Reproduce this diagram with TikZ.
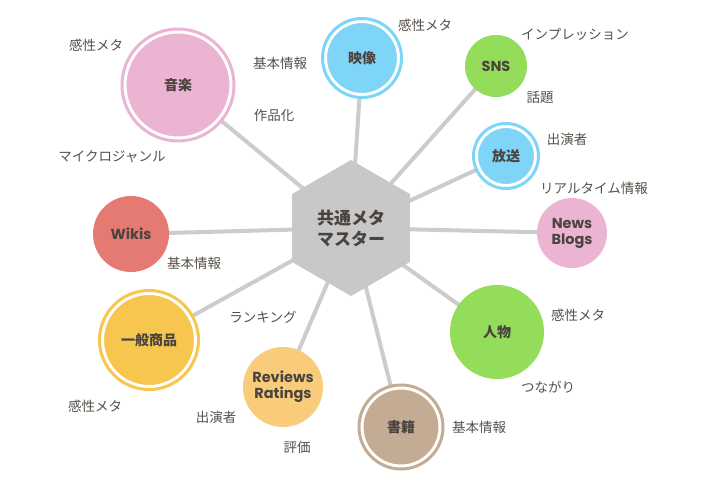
\documentclass[tikz,border=0pt]{standalone}
\usepackage{fontspec}
\setmainfont{Noto Sans CJK JP}
\newfontfamily\latfont{Poppins}
\usetikzlibrary{shapes.geometric}
\pgfdeclarelayer{background}
\pgfsetlayers{background,main}
\definecolor{txt}{HTML}{57504A}
\definecolor{txtd}{HTML}{4A433E}
\definecolor{lnk}{HTML}{CCCCCC}
\definecolor{hexc}{HTML}{C8C8C8}
\definecolor{pinkc}{HTML}{ECB4D3}
\definecolor{bluec}{HTML}{7FD5F7}
\definecolor{greenc}{HTML}{93DD5B}
\definecolor{redc}{HTML}{E57A72}
\definecolor{yellowc}{HTML}{F7C64E}
\definecolor{orangec}{HTML}{F8CC7A}
\definecolor{tanc}{HTML}{C4AC94}
\begin{document}
\begin{tikzpicture}[x=1pt,y=-1pt,
  lbl/.style={text=txt, font=\fontsize{13.5}{15}\selectfont, inner sep=0},
  ttl/.style={text=txtd, font=\bfseries\fontsize{14}{16}\selectfont, align=center},
  latttl/.style={text=txtd, font=\latfont\bfseries\fontsize{14.5}{16}\selectfont, align=center},
  bub/.style={circle, inner sep=0, outer sep=0, fill=#1},
  gapped/.style={draw=white, line width=3pt},
  ringline/.style={draw=#1, line width=3pt},
  link/.style={draw=lnk, line width=4pt}]
\useasboundingbox (0,0) rectangle (720,480);

% centre hexagon
\node[regular polygon, regular polygon sides=6, shape border rotate=30,
      fill=hexc, minimum size=136pt, inner sep=0, text=txtd,
      font=\bfseries\fontsize{17}{21}\selectfont, align=center] (hub) at (351,228) {共通メタ\\マスター};

% bubbles
\node[bub=pinkc, gapped, minimum size=106pt, ttl] (music) at (178,85) {音楽};
\draw[ringline=pinkc] (music.center) circle (56);
\node[bub=bluec, gapped, minimum size=73pt, ttl] (video) at (362,58) {映像};
\draw[ringline=bluec] (video.center) circle (39.5);
\node[bub=greenc, minimum size=62pt, latttl] (sns) at (496,66) {SNS};
\node[bub=bluec, gapped, minimum size=59pt, ttl] (bcast) at (506,156) {放送};
\draw[ringline=bluec] (bcast.center) circle (32.5);
\node[bub=pinkc, minimum size=70pt, latttl] (news) at (572,233) {News\\Blogs};
\node[bub=greenc, minimum size=94pt, ttl] (person) at (497,332) {人物};
\node[bub=tanc, gapped, minimum size=78pt, ttl] (book) at (401,427) {書籍};
\draw[ringline=tanc] (book.center) circle (42);
\node[bub=orangec, minimum size=80pt, latttl] (review) at (283,387) {Reviews\\Ratings};
\node[bub=yellowc, gapped, minimum size=93pt, ttl] (goods) at (149,340) {一般商品};
\draw[ringline=yellowc] (goods.center) circle (49.5);
\node[bub=redc, minimum size=76pt, latttl] (wiki) at (131,234) {Wikis};

% connectors
\begin{pgfonlayer}{background}
\foreach \n in {music,video,sns,bcast,news,person,book,review,goods,wiki}
  \draw[link] (hub.center) -- (\n.center);
\end{pgfonlayer}

% labels
\node[lbl] (l1) at (96,45) {感性メタ};
\node[lbl] (l2) at (280,63) {基本情報};
\node[lbl] (l3) at (274,115) {作品化};
\node[lbl] (l4) at (112,157) {マイクロジャンル};
\node[lbl] (l5) at (425,25) {感性メタ};
\node[lbl] (l6) at (575,34) {インプレッション};
\node[lbl] (l7) at (540,97) {話題};
\node[lbl] (l8) at (567,139) {出演者};
\node[lbl] (l9) at (594,188) {リアルタイム情報};
\node[lbl] (l10) at (194,263) {基本情報};
\node[lbl] (l11) at (263,317) {ランキング};
\node[lbl] (l12) at (578,315) {感性メタ};
\node[lbl] (l13) at (548,387) {つながり};
\node[lbl] (l14) at (95,406) {感性メタ};
\node[lbl] (l15) at (216,417) {出演者};
\node[lbl] (l16) at (297,447) {評価};
\node[lbl] (l17) at (479,427) {基本情報};
\end{tikzpicture}
\end{document}
